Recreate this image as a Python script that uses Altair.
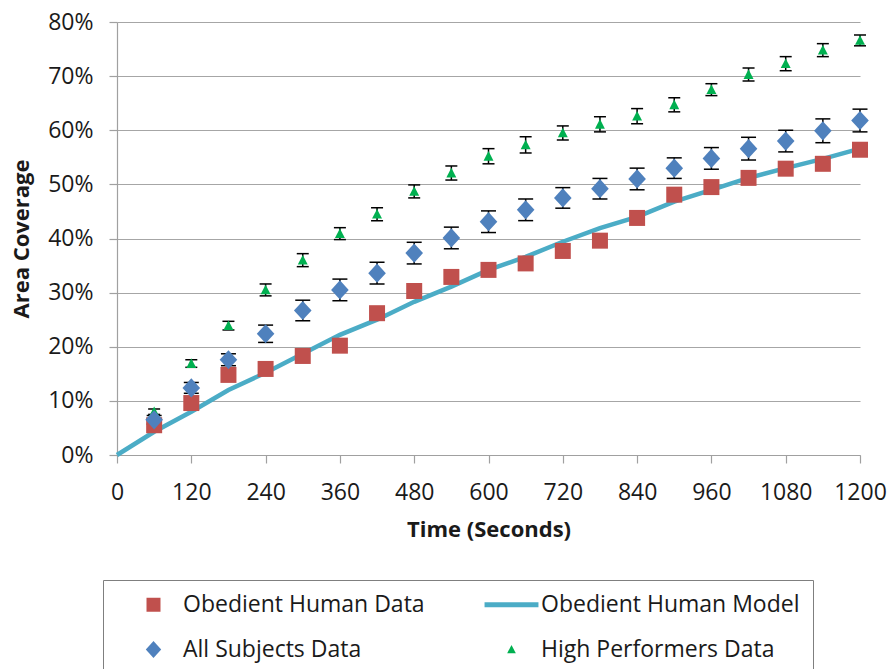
import altair as alt
import pandas as pd

# ---- data (percent) ----
time_s = [60, 120, 180, 240, 300, 360, 420, 480, 540, 600,
          660, 720, 780, 840, 900, 960, 1020, 1080, 1140, 1200]
obedient_data = [5.5, 9.6, 14.8, 15.9, 18.3, 20.2, 26.2, 30.3, 32.9, 34.2,
                 35.4, 37.7, 39.6, 43.8, 48.1, 49.5, 51.2, 52.9, 53.8, 56.4]
all_subjects = [6.5, 12.4, 17.6, 22.4, 26.7, 30.5, 33.6, 37.3, 40.1, 43.1,
                45.3, 47.5, 49.2, 51.0, 53.0, 54.8, 56.6, 58.0, 59.9, 61.8]
all_subjects_err = [0.8, 1.0, 1.1, 1.6, 1.9, 2.0, 2.0, 2.0, 2.0, 2.0,
                    2.0, 1.9, 1.9, 2.0, 1.9, 2.0, 2.1, 2.0, 2.2, 2.1]
high_perf = [8.0, 16.9, 23.9, 30.5, 36.0, 40.9, 44.5, 48.7, 52.1, 55.2,
             57.3, 59.5, 61.1, 62.6, 64.7, 67.5, 70.3, 72.3, 74.8, 76.6]
high_perf_err = [0.5, 0.7, 0.8, 1.1, 1.2, 1.1, 1.2, 1.2, 1.3, 1.4,
                 1.5, 1.3, 1.4, 1.4, 1.3, 1.1, 1.2, 1.3, 1.2, 1.0]
model_time = [0, 60, 120, 180, 240, 300, 360, 420, 480, 540, 600,
              660, 720, 780, 840, 900, 960, 1020, 1080, 1140, 1200]
model = [0.0, 4.3, 8.0, 12.0, 15.2, 18.7, 22.2, 25.0, 28.3, 31.1, 34.2,
         36.6, 39.4, 41.9, 44.0, 46.8, 49.0, 51.2, 53.0, 54.7, 56.6]

# legend order (filled column by column: col 1 = first two, col 2 = last two)
series_names = ["Obedient Human Data", "All Subjects Data",
                "Obedient Human Model", "High Performers Data"]
series_colors = ["#C0504D", "#4F81BD", "#4BACC6", "#00B050"]
series_shapes = [
    "M-1,-1H1V1H-1Z",
    "M0,-1.2L1.1,0L0,1.2L-1.1,0Z",
    "M-3.85,-0.36H3.85V0.36H-3.85Z",
    "M0,-0.65L0.62,0.55H-0.62Z",
]
x_ticks = [0, 120, 240, 360, 480, 600, 720, 840, 960, 1080, 1200]
y_ticks = [0, 0.1, 0.2, 0.3, 0.4, 0.5, 0.6, 0.7, 0.8]

# ---- tables ----
pts = pd.concat([
    pd.DataFrame({"t": time_s, "v": [v / 100 for v in obedient_data], "series": "Obedient Human Data"}),
    pd.DataFrame({"t": time_s, "v": [v / 100 for v in high_perf], "series": "High Performers Data"}),
    pd.DataFrame({"t": time_s, "v": [v / 100 for v in all_subjects], "series": "All Subjects Data"}),
], ignore_index=True)

err_asd = pd.DataFrame({
    "t": time_s,
    "lo": [(v - e) / 100 for v, e in zip(all_subjects, all_subjects_err)],
    "hi": [(v + e) / 100 for v, e in zip(all_subjects, all_subjects_err)],
})
err_hpd = pd.DataFrame({
    "t": time_s,
    "lo": [(v - e) / 100 for v, e in zip(high_perf, high_perf_err)],
    "hi": [(v + e) / 100 for v, e in zip(high_perf, high_perf_err)],
})
model_df = pd.DataFrame({"t": model_time, "v": [v / 100 for v in model]})

FONT = "Open Sans"
TXT = "#1a1a1a"

x_enc = alt.X("t:Q", scale=alt.Scale(domain=[0, 1200], nice=False),
              axis=alt.Axis(values=x_ticks, format="d", title="Time (Seconds)", grid=False,
                            tickSize=8, labelPadding=18, titlePadding=15,
                            labelFlush=False))
y_scale = alt.Scale(domain=[0, 0.8], nice=False)
y_axis = alt.Axis(values=y_ticks, format=".0%", title="Area Coverage", grid=True,
                  tickSize=8, labelPadding=16, titlePadding=14, labelFlush=False)

line = alt.Chart(model_df).mark_line(color="#4BACC6", strokeWidth=4.5).encode(
    x=x_enc, y=alt.Y("v:Q", scale=y_scale, axis=y_axis))


def err_layers(df, cap):
    rule = alt.Chart(df).mark_rule(color="black", strokeWidth=1.5).encode(
        x="t:Q", y="lo:Q", y2="hi:Q")
    lo = alt.Chart(df).mark_tick(color="black", orient="horizontal", thickness=1.5,
                                 size=cap, opacity=1).encode(x="t:Q", y="lo:Q")
    hi = alt.Chart(df).mark_tick(color="black", orient="horizontal", thickness=1.5,
                                 size=cap, opacity=1).encode(x="t:Q", y="hi:Q")
    return [rule, lo, hi]


legend = alt.Legend(
    title=None, orient="none", legendX=-14, legendY=558, columns=2,
    symbolSize=196, symbolOffset=26, labelOffset=18, symbolStrokeWidth=0,
    labelFont=FONT, labelFontSize=23, labelColor=TXT, labelLimit=500,
    padding=13, rowPadding=21, columnPadding=49,
    strokeColor="#7f7f7f", fillColor="white",
)

points = alt.Chart(pts).mark_point(filled=True, opacity=1, size=256, strokeWidth=0).encode(
    x="t:Q", y="v:Q",
    color=alt.Color("series:N", scale=alt.Scale(domain=series_names, range=series_colors),
                    legend=legend),
    shape=alt.Shape("series:N", scale=alt.Scale(domain=series_names, range=series_shapes),
                    legend=legend),
)

chart = alt.layer(
    line, *err_layers(err_asd, 15), *err_layers(err_hpd, 12), points
).properties(
    width=743, height=433,
    autosize=alt.AutoSizeParams(type="none"),
    padding={"left": 117, "top": 22, "right": 30, "bottom": 214},
).configure_view(stroke=None).configure_axis(
    labelFont=FONT, labelFontSize=23, labelColor=TXT,
    titleFont=FONT, titleFontSize=22, titleFontWeight="bold", titleColor=TXT,
    domainColor="#a0a0a0", tickColor="#a0a0a0", gridColor="#a6a6a6",
    domainWidth=1.2, tickWidth=1.2, gridWidth=1.2,
)

chart.save("out.html", embed_options={"renderer": "svg", "actions": False})
